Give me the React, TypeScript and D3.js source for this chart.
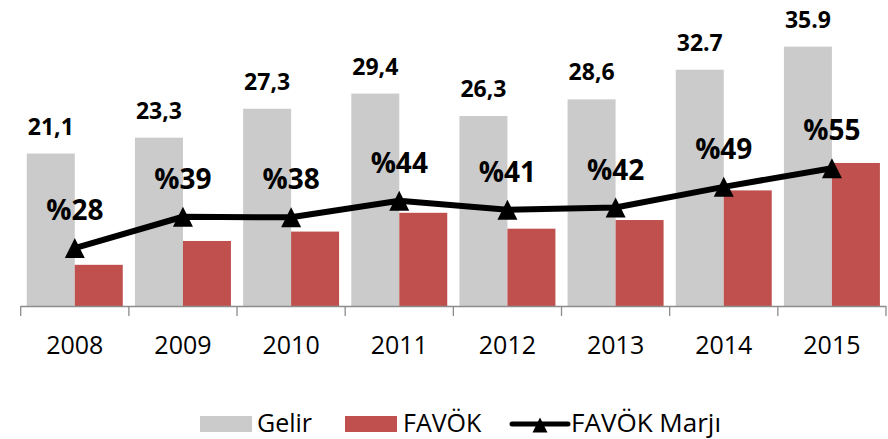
import React from "react";
import * as d3 from "d3";

const years = ["2008", "2009", "2010", "2011", "2012", "2013", "2014", "2015"];
const gelir = [21.1, 23.3, 27.3, 29.4, 26.3, 28.6, 32.7, 35.9];
const gelirLabels = ["21,1", "23,3", "27,3", "29,4", "26,3", "28,6", "32.7", "35.9"];
const favok = [5.7, 9.0, 10.3, 12.9, 10.7, 11.9, 16.0, 19.8];
const marj = [28, 38.6, 38.4, 44, 41, 41.7, 48.7, 55];
const marjLabels = ["%28", "%39", "%38", "%44", "%41", "%42", "%49", "%55"];
const seriesNames = ["Gelir", "FAVÖK"];

const W = 888;
const H = 439;
const FONT = "'Open Sans', sans-serif";
const GRAY = "#CBCBCB";
const RED = "#C0504D";

function tri(cx: number, cy: number, w: number, h: number) {
  return `M${cx},${cy - h / 2}L${cx + w / 2},${cy + h / 2}L${cx - w / 2},${cy + h / 2}Z`;
}

export default function App() {
  const x0 = d3.scaleBand<string>().domain(years).range([20.7, 886]).padding(0);
  const x1 = d3
    .scaleBand<string>()
    .domain(seriesNames)
    .range([0, x0.bandwidth()])
    .paddingInner(0)
    .paddingOuter(0.127);
  const y = d3.scaleLinear().domain([0, 40]).range([306, 17]);
  const y2 = d3.scaleLinear().domain([0, 100]).range([331, 35]);
  const baseY = y(0);

  const cx = (i: number) => (x0(years[i]) as number) + x0.bandwidth() / 2;
  const line = d3
    .line<number>()
    .x((_, i) => cx(i))
    .y((d) => y2(d));

  const ticks = [...years.map((yr) => x0(yr) as number), x0.range()[1]];

  return (
    <svg
      width={W}
      height={H}
      style={{ position: "absolute", left: 0, top: 0, background: "#fff" }}
      fontFamily={FONT}
    >
      {years.map((yr, i) => {
        const gx = (x0(yr) as number) + (x1("Gelir") as number);
        const fx = (x0(yr) as number) + (x1("FAVÖK") as number);
        return (
          <g key={yr}>
            <rect x={gx} y={y(gelir[i])} width={x1.bandwidth()} height={baseY - y(gelir[i])} fill={GRAY} />
            <rect x={fx} y={y(favok[i])} width={x1.bandwidth()} height={baseY - y(favok[i])} fill={RED} />
            <text
              x={gx + x1.bandwidth() / 2}
              y={y(gelir[i]) - 19}
              textAnchor="middle"
              fontSize={23}
              fontWeight="bold"
              fill="#000"
            >
              {gelirLabels[i]}
            </text>
          </g>
        );
      })}

      {/* axis */}
      <line x1={x0.range()[0]} x2={x0.range()[1]} y1={baseY + 0.5} y2={baseY + 0.5} stroke="#8C8C8C" strokeWidth={1.3} />
      {ticks.map((t, i) => (
        <line key={i} x1={t} x2={t} y1={baseY} y2={baseY + 10} stroke="#8C8C8C" strokeWidth={1.3} />
      ))}
      {years.map((yr, i) => (
        <text key={yr} x={cx(i)} y={354} textAnchor="middle" fontSize={25} fill="#000">
          {yr}
        </text>
      ))}

      {/* margin line */}
      <path d={line(marj) || ""} fill="none" stroke="#000" strokeWidth={6} strokeLinejoin="round" />
      {marj.map((m, i) => (
        <g key={i}>
          <path d={tri(cx(i), y2(m), 20, 20)} fill="#000" />
          <text x={cx(i)} y={y2(m) - 28} textAnchor="middle" fontSize={28} fontWeight="bold" fill="#000">
            {marjLabels[i]}
          </text>
        </g>
      ))}

      {/* legend */}
      <g>
        <rect x={200} y={416} width={52} height={16} fill={GRAY} />
        <text x={257} y={432} fontSize={25} fill="#000">Gelir</text>
        <rect x={345} y={416} width={52} height={16} fill={RED} />
        <text x={403} y={432} fontSize={25} fill="#000">FAVÖK</text>
        <line x1={512} x2={568} y1={424} y2={424} stroke="#000" strokeWidth={5} strokeLinecap="round" />
        <path d={tri(540, 425, 15, 15)} fill="#000" />
        <text x={571} y={432} fontSize={25} fill="#000" textLength={150} lengthAdjust="spacingAndGlyphs">FAVÖK Marjı</text>
      </g>
    </svg>
  );
}
